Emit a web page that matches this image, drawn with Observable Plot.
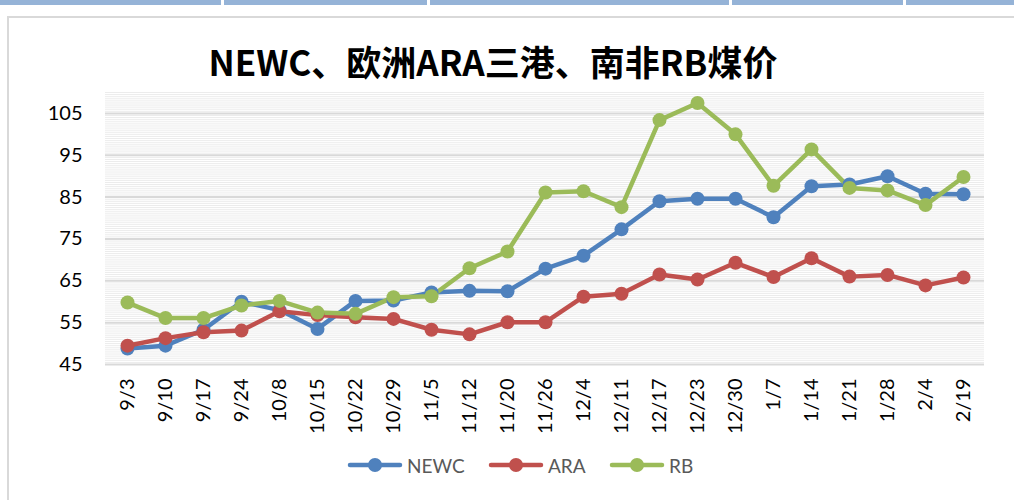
<!DOCTYPE html>
<html>
<head>
<meta charset="utf-8">
<script src="https://cdn.jsdelivr.net/npm/d3@7"></script>
<script src="https://cdn.jsdelivr.net/npm/@observablehq/plot@0.6"></script>
<style>
  html, body { margin: 0; padding: 0; background: #fff; }
  #wrap { position: relative; width: 1014px; height: 500px; overflow: hidden; background: #fff; }
  #topbar { position: absolute; left: 0; top: 0; width: 1014px; height: 5px; background: #95B3D7; }
  .sep { position: absolute; top: 0; width: 3px; height: 5px; background: #fff; }
  #frame { position: absolute; left: 7px; top: 16px; width: 1020px; height: 500px; border-left: 2px solid #d9d9d9; border-top: 2px solid #d9d9d9; box-sizing: border-box; }
  #title { position: absolute; left: 0; width: 986px; top: 35px; text-align: center; font-family: "Noto Sans CJK SC", sans-serif; font-weight: 700; font-size: 35px; color: #000; letter-spacing: 0px; }
  #chart { position: absolute; left: 0; top: 0; }
  #legend { position: absolute; top: 452px; left: 0; width: 1014px; height: 26px; font-family: Lato, sans-serif; font-size: 19px; color: #595959; }
  .item { position: absolute; top: 0; display: flex; align-items: center; height: 26px; }
  .item svg { margin-right: 4px; }
</style>
</head>
<body>
<div id="wrap">
  <div id="frame"></div>
  <div id="topbar"></div>
  <div class="sep" style="left:221px"></div>
  <div class="sep" style="left:427px"></div>
  <div class="sep" style="left:729px"></div>
  <div class="sep" style="left:903px"></div>
  <div id="title">NEWC、欧洲ARA三港、南非RB煤价</div>
  <div id="chart"></div>
  <div id="legend"></div>
</div>
<script>
const dates = ["9/3","9/10","9/17","9/24","10/8","10/15","10/22","10/29","11/5","11/12","11/20","11/26","12/4","12/11","12/17","12/23","12/30","1/7","1/14","1/21","1/28","2/4","2/19"];
const newc = [48.8,49.5,53.3,60.0,58.0,53.5,60.2,60.3,62.2,62.6,62.5,67.9,71.0,77.3,84.0,84.6,84.6,80.2,87.6,88.0,90.0,85.8,85.7];
const ara  = [49.5,51.3,52.7,53.1,57.7,56.8,56.3,55.9,53.3,52.2,55.1,55.1,61.2,61.9,66.5,65.3,69.3,65.9,70.4,66.0,66.4,63.9,65.8];
const rb   = [59.8,56.1,56.1,59.1,60.2,57.4,57.1,61.1,61.3,68.0,72.0,86.1,86.4,82.6,103.4,107.5,100.0,87.7,96.4,87.2,86.6,83.1,89.8];
const seriesNames = ["NEWC","ARA","RB"];
const seriesColors = ["#4F81BD","#C0504D","#9BBB59"];
const yTicks = [45,55,65,75,85,95,105];

const rows = [];
[newc, ara, rb].forEach((vals, s) => vals.forEach((v, i) => rows.push({date: dates[i], value: v, series: seriesNames[s]})));
const minor = d3.range(45, 110.01, 0.5).filter(v => (v - 45) % 10 !== 0);

const plot = Plot.plot({
  width: 1014,
  height: 500,
  marginTop: 92,
  marginBottom: 136,
  marginLeft: 105,
  marginRight: 30,
  style: {fontFamily: "Lato, sans-serif", fontSize: "20px", color: "#000", background: "transparent"},
  x: {type: "band", domain: dates, padding: 0, align: 0.5},
  y: {domain: [45, 110]},
  color: {domain: seriesNames, range: seriesColors},
  marks: [
    Plot.ruleY(minor, {stroke: "#ececec", strokeWidth: 1}),
    Plot.ruleY(yTicks, {stroke: "#d9d9d9", strokeWidth: 2}),
    Plot.axisY({ticks: yTicks, tickSize: 0, tickPadding: 23, label: null, fontSize: 20}),
    Plot.axisX({tickSize: 0, tickPadding: 14, tickRotate: -90, label: null, fontSize: 20}),
    Plot.line(rows, {x: "date", y: "value", z: "series", stroke: "series", strokeWidth: 4.5, strokeLinejoin: "round", strokeLinecap: "round"}),
    Plot.dot(rows, {x: "date", y: "value", fill: "series", r: 7, stroke: "none"})
  ]
});
document.getElementById("chart").appendChild(plot);

const legend = document.getElementById("legend");
const lx = [347, 488, 609];
seriesNames.forEach((name, i) => {
  const item = document.createElement("div");
  item.className = "item";
  item.style.left = lx[i] + "px";
  item.innerHTML = `<svg width="56" height="20"><line x1="3" y1="10" x2="53" y2="10" stroke="${seriesColors[i]}" stroke-width="4.5" stroke-linecap="round"/><circle cx="28" cy="10" r="7" fill="${seriesColors[i]}"/></svg><span>${name}</span>`;
  legend.appendChild(item);
});
</script>
</body>
</html>
